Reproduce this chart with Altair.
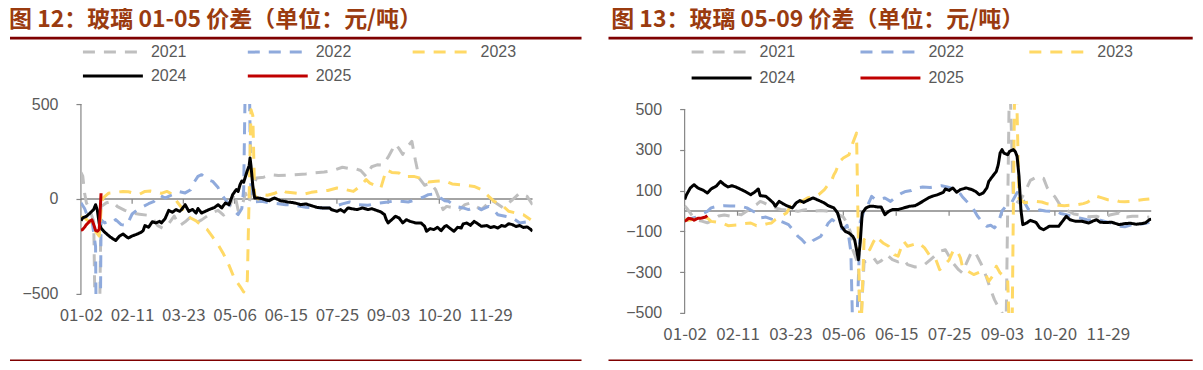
import json
import altair as alt
import pandas as pd

# ---------------- shared axis / legend data ----------------
LABEL_IDX = [0, 28, 56, 84, 112, 140, 168, 196, 224]
LABELS = ["01-02", "02-11", "03-23", "05-06", "06-15", "07-25", "09-03", "10-20", "11-29"]
YEARS = ["2021", "2022", "2023", "2024", "2025"]
COLORS = ["#BFBFBF", "#8FAADC", "#FFD966", "#000000", "#C00000"]
DASHES = [[12, 9], [12, 9], [12, 9], [1, 0], [1, 0]]
WIDTHS = [3, 3, 3, 3, 4.5]

# ---------------- 图12: 玻璃 01-05 价差 (trading-day index, value) ----------------
F12_2021 = [(0,140),(1,120),(2,30),(3,-20),(5,-60),(7,-120),(9,-1500),(11,-40),(14,-20),(17,-12),
            (20,-40),(24,-60),(28,-75),(32,-80),(36,-85),(39,-100),(42,-140),(45,-155),(48,-130),
            (51,-90),(54,-140),(57,-120),(60,-95),(63,-125),(66,-110),(69,-90),(72,-70),(75,-60),
            (78,-85),(81,-50),(84,30),(86,-60),(88,-40),(90,30),(92,-20),(94,60),(96,110),(100,115),
            (104,128),(108,124),(112,125),(117,128),(123,132),(128,138),(133,142),(138,150),(143,167),
            (147,160),(150,160),(153,150),(156,119),(159,170),(162,180),(165,178),(168,220),(170,255),
            (172,290),(174,265),(176,235),(178,270),(181,304),(183,200),(185,110),(188,72),(191,84),
            (194,49),(196,0),(198,-56),(200,-39),(204,-47),(207,-56),(210,-30),(213,-21),(216,-39),
            (219,-56),(222,-30),(224,-4),(227,-21),(231,-47),(234,-20),(236,-4),(240,32),(244,14),(247,-30)]
F12_2022 = [(0,-20),(2,-50),(4,-100),(6,-110),(8,-250),(9,-1500),(10,-1500),(11,-110),(13,-126),
            (15,-118),(17,-126),(19,-109),(22,-135),(25,-140),(28,-79),(31,-56),(34,-40),(37,-25),
            (40,-12),(43,20),(46,5),(50,23),(53,40),(57,32),(60,49),(62,90),(64,119),(66,128),(69,102),
            (72,93),(75,60),(77,23),(79,-4),(81,-30),(83,-56),(86,-82),(88,-50),(89,50),(90,700),(92,700),
            (93,20),(95,-15),(99,-12),(103,-21),(108,-25),(112,-30),(117,-33),(123,-44),(128,-47),
            (136,-47),(143,-26),(147,-16),(152,-30),(157,-33),(163,-21),(168,-16),(172,-9),(179,-16),
            (183,-4),(187,9),(190,23),(193,26),(196,10),(199,-9),(201,-12),(205,-39),(209,-47),(212,-56),
            (216,-40),(219,-56),(223,-39),(226,-60),(228,-83),(232,-91),(236,-100),(240,-126),(244,-120),(247,-118)]
F12_2023 = [(0,-95),(2,-100),(4,-115),(6,-130),(8,-170),(10,-195),(11,-60),(12,5),(15,30),(19,35),
            (23,40),(26,38),(29,30),(32,25),(35,40),(38,42),(41,37),(44,30),(47,40),(49,30),(51,5),
            (53,-20),(55,-45),(57,-80),(60,-100),(63,-115),(66,-140),(69,-160),(72,-200),(75,-240),
            (78,-290),(81,-350),(84,-420),(87,-460),(89,-490),(91,-430),(92,20),(93,470),(94,440),
            (95,20),(97,0),(99,23),(102,20),(106,30),(110,49),(112,37),(117,32),(122,26),(126,35),
            (130,40),(135,45),(140,58),(145,49),(149,40),(153,70),(156,102),(158,84),(162,67),(164,58),
            (167,154),(170,140),(174,137),(176,119),(182,119),(185,111),(190,89),(194,93),(199,96),
            (203,79),(208,75),(212,70),(215,66),(219,49),(223,14),(226,-12),(230,-30),(234,-65),
            (238,-74),(242,-83),(246,-109)]
F12_2024 = [(0,-114),(1,-100),(3,-91),(5,-74),(7,-55),(8,-30),(9,-60),(10,-130),(11,-153),(13,-175),
            (16,-200),(19,-219),(21,-196),(23,-184),(25,-200),(26,-205),(28,-195),(30,-188),(33,-175),
            (34,-167),(35,-140),(37,-149),(39,-120),(41,-126),(43,-118),(44,-126),(46,-104),(48,-60),
            (50,-70),(52,-56),(54,-65),(55,-56),(57,-30),(59,-65),(61,-55),(63,-74),(64,-50),(66,-74),
            (68,-65),(70,-56),(73,-45),(75,-30),(77,-47),(79,-21),(81,-30),(83,23),(85,50),(86,40),
            (87,75),(88,95),(89,88),(91,150),(92,175),(92.5,216),(93,175),(94,70),(95,5),(97,5),(99,2),
            (101,-5),(103,-9),(105,2),(106,5),(108,-4),(109,-9),(111,-12),(113,-16),(115,-18),(117,-21),
            (119,-26),(120,-30),(123,-26),(126,-35),(129,-44),(132,-47),(136,-47),(137,-56),(140,-65),
            (142,-56),(144,-68),(146,-47),(148,-51),(151,-56),(154,-47),(157,-56),(159,-51),(162,-61),
            (164,-68),(166,-82),(167,-109),(168,-126),(170,-109),(172,-91),(174,-100),(176,-126),
            (178,-109),(180,-118),(183,-126),(186,-126),(188,-144),(189,-170),(191,-156),(193,-161),
            (195,-149),(197,-167),(199,-144),(200,-140),(202,-156),(204,-170),(206,-149),(208,-153),
            (209,-132),(211,-126),(213,-139),(215,-118),(217,-130),(219,-144),(222,-140),(224,-150),
            (226,-145),(228,-153),(230,-140),(232,-144),(234,-130),(236,-135),(238,-145),(240,-140),
            (242,-150),(244,-147),(246,-160),(247,-170)]
F12_2025 = [(0,-165),(1,-160),(2,-148),(3,-135),(4,-125),(5,-115),(6,-110),(7,-135),(8,-165),
            (9,-170),(10,-160),(11,30)]

# ---------------- 图13: 玻璃 05-09 价差 ----------------
F13_2021 = [(0,25),(1,15),(3,-10),(5,-35),(7,-45),(9,-50),(12,-58),(15,-45),(18,-25),(21,-20),
            (24,-25),(27,-15),(30,-18),(33,0),(36,20),(38,31),(40,47),(42,40),(45,25),(48,15),(51,7),
            (54,5),(57,5),(60,-2),(63,5),(66,8),(69,0),(72,2),(75,0),(78,-5),(81,-15),(84,-30),(86,-59),
            (88,-108),(89,-190),(91,-239),(92,-255),(93,-600),(95,-250),(97,-247),(100,-230),(102,-255),
            (104,-245),(107,-214),(110,-239),(113,-250),(116,-239),(118,-263),(122,-275),(125,-271),
            (127,-263),(130,-240),(133,-215),(135,-198),(138,-190),(140,-222),(142,-255),(145,-288),
            (147,-304),(149,-260),(152,-198),(154,-206),(157,-260),(160,-330),(162,-386),(164,-435),
            (166,-470),(168,-500),(170,-700),(172,700),(174,60),(177,40),(180,90),(183,150),(187,170),
            (190,160),(192,113),(194,90),(196,70),(198,40),(200,15),(203,0),(206,-15),(210,-20),
            (214,-28),(218,-26),(221,-34),(225,-20),(230,-10),(231,-26),(234,-30),(237,-26),(241,-26),
            (244,-32),(246,-30)]
F13_2022 = [(0,-40),(2,-42),(4,-35),(6,-30),(8,-18),(10,-10),(12,-2),(14,15),(16,20),(18,23),(21,26),
            (24,25),(27,24),(29,23),(31,20),(33,15),(35,5),(38,-10),(40,-34),(43,-30),(46,-40),(49,-45),
            (52,-55),(55,-67),(58,-100),(60,-125),(62,-140),(64,-160),(66,-165),(68,-145),(70,-135),
            (72,-125),(74,-95),(76,-60),(78,-42),(80,-55),(82,-80),(84,-90),(86,-70),(88,-200),(89,-600),
            (91,-600),(93,-50),(95,0),(97,30),(99,72),(101,56),(104,60),(106,64),(109,47),(112,70),
            (115,88),(117,96),(120,100),(123,113),(126,118),(130,115),(133,120),(136,124),(139,118),
            (142,110),(145,95),(147,70),(149,50),(151,31),(153,7),(155,-25),(158,-59),(160,-75),
            (162,-70),(164,-83),(166,-59),(168,0),(170,23),(173,40),(176,90),(178,80),(180,40),(182,7),
            (185,-2),(188,5),(191,0),(194,-2),(197,-2),(199,-12),(202,-18),(205,-26),(209,-34),(213,-43),
            (216,-45),(220,-45),(224,-55),(228,-65),(230,-75),(233,-78),(237,-67),(240,-67),(244,-60),(246,-55)]
F13_2023 = [(0,-42),(2,-45),(4,-42),(6,-40),(8,-38),(10,-36),(12,-34),(14,-51),(17,-55),(20,-59),
            (23,-72),(26,-70),(29,-68),(32,-62),(35,-59),(38,-72),(41,-70),(44,-62),(46,-59),(48,-42),
            (51,-25),(54,-10),(56,23),(59,35),(62,47),(65,64),(68,72),(71,80),(74,105),(76,130),(78,154),
            (79,178),(80,194),(82,243),(84,260),(87,276),(89,333),(91,382),(93,-700),(95,-140),(96,-157),
            (98,-190),(100,-150),(102,-124),(103,-140),(105,-157),(108,-173),(111,-214),(113,-222),
            (115,-170),(116,-149),(118,-173),(121,-165),(124,-157),(127,-181),(130,-222),(133,-239),
            (135,-288),(137,-271),(140,-240),(142,-198),(144,-190),(146,-230),(147,-271),(150,-296),
            (153,-312),(156,-300),(159,-304),(161,-345),(163,-320),(165,-271),(167,-304),(169,-320),
            (171,-337),(173,-900),(175,900),(177,60),(180,40),(183,45),(186,47),(189,44),(192,35),
            (195,31),(198,28),(201,26),(204,28),(208,31),(211,36),(213,42),(216,60),(218,72),(221,64),
            (224,55),(227,55),(230,47),(233,45),(236,47),(240,52),(243,56),(246,59)]
F13_2024 = [(0,56),(1,80),(3,113),(5,129),(7,113),(9,105),(10,101),(12,88),(14,108),(16,118),(17,124),
            (19,145),(21,129),(23,118),(25,124),(27,118),(30,105),(32,96),(35,80),(37,92),(39,108),
            (40,75),(43,72),(45,56),(47,39),(48,23),(50,47),(52,36),(54,26),(57,15),(59,39),(61,51),
            (63,42),(66,56),(68,64),(70,56),(71,52),(74,39),(76,26),(79,15),(81,-10),(82,-42),(83,-75),
            (85,-100),(87,-108),(89,-124),(90,-141),(92,-239),(93,-150),(94,-10),(96,15),(98,23),
            (100,23),(102,20),(104,20),(106,-18),(108,-2),(110,7),(113,7),(116,15),(119,23),(122,26),
            (124,36),(126,47),(129,64),(131,72),(134,80),(137,92),(138,108),(140,101),(142,113),
            (144,92),(146,105),(149,113),(152,105),(154,96),(156,80),(158,88),(160,113),(161,145),
            (163,170),(165,194),(166,227),(167,284),(168,301),(169,284),(171,276),(172,292),(174,301),
            (175,292),(176,268),(177,170),(178,7),(179,-67),(181,-59),(183,-46),(186,-56),(188,-83),
            (190,-92),(193,-75),(198,-75),(200,-51),(202,-26),(204,-43),(207,-51),(210,-50),(214,-59),
            (216,-50),(218,-43),(220,-55),(223,-57),(226,-55),(230,-67),(233,-62),(236,-60),(239,-65),
            (242,-62),(244,-58),(246,-43),(247,-40)]
F13_2025 = [(0,-50),(1,-45),(2,-36),(4,-40),(5,-45),(7,-36),(9,-35),(11,-30),(12,-23)]

TITLE12 = "图 12：玻璃 01-05 价差（单位：元/吨）"
TITLE13 = "图 13：玻璃 05-09 价差（单位：元/吨）"

TITLE_COLOR = "#9A3B0F"
RULE_COLOR = "#7F0000"
AXIS_GRAY = "#868686"
TEXT_GRAY = "#595959"


def frame(series):
    rows = []
    for year, pts in zip(YEARS, series):
        for d, v in pts:
            rows.append({"d": d, "v": v, "year": year})
    return pd.DataFrame(rows)


LABEL_EXPR = f"{json.dumps(LABELS)}[indexof({json.dumps(LABEL_IDX)}, datum.value)]"
ONE = pd.DataFrame({"k": [0]})


def panel(series, title, width, height, ydom, yvals, tick_len, leg_x, leg_y, col_pad, row_pad,
          title_x, rule_x1, rule_x2, bottom_y):
    df = frame(series)
    x_enc = alt.X("d:Q",
                  scale=alt.Scale(domain=[0, 247], nice=False, zero=False),
                  axis=alt.Axis(values=LABEL_IDX, labelExpr=LABEL_EXPR, title=None, domain=False,
                                ticks=False, grid=False, labelFont="Noto Sans CJK SC",
                                labelFontSize=17, labelColor=TEXT_GRAY, labelPadding=14,
                                labelFlush=False, labelOverlap=False))
    y_enc = alt.Y("v:Q",
                  scale=alt.Scale(domain=ydom, nice=False, zero=False),
                  axis=alt.Axis(values=yvals, title=None, grid=False, domain=False,
                                tickColor=AXIS_GRAY, tickSize=5, tickWidth=1.2,
                                labelFont="Liberation Sans", labelFontSize=16,
                                labelColor=TEXT_GRAY, labelPadding=18, labelFlush=False))
    leg = alt.Legend(orient="none", legendX=leg_x, legendY=leg_y, direction="horizontal",
                     columns=3, title=None, symbolType="M-6,0H6", symbolSize=100,
                     symbolOffset=22, labelOffset=30,
                     labelFont="Liberation Sans", labelFontSize=16, labelColor=TEXT_GRAY,
                     columnPadding=col_pad, rowPadding=row_pad, padding=0)
    lines = alt.Chart(df).mark_line(clip=True, strokeJoin="round").encode(
        x=x_enc, y=y_enc,
        color=alt.Color("year:O", scale=alt.Scale(domain=YEARS, range=COLORS), legend=leg),
        strokeDash=alt.StrokeDash("year:O", scale=alt.Scale(domain=YEARS, range=DASHES), legend=leg),
        strokeWidth=alt.StrokeWidth("year:O", scale=alt.Scale(domain=YEARS, range=WIDTHS), legend=leg),
    )
    zero = alt.Chart(ONE).mark_rule(color=AXIS_GRAY, strokeWidth=1.5).encode(y=alt.datum(0))
    ticks = alt.Chart(pd.DataFrame({"d": LABEL_IDX[1:]})).mark_rule(
        color=AXIS_GRAY, strokeWidth=1.2).encode(x="d:Q", y=alt.datum(0), y2=alt.datum(-tick_len))
    yline = alt.Chart(ONE).mark_rule(color=AXIS_GRAY, strokeWidth=1.2).encode(
        x=alt.datum(0), y=alt.datum(-500), y2=alt.datum(500))
    head = alt.Chart(pd.DataFrame({"t": [title]})).mark_text(
        align="left", baseline="middle", font="Noto Sans CJK SC", fontSize=23,
        fontWeight="bold", color=TITLE_COLOR).encode(
        text="t:N", x=alt.value(title_x), y=alt.value(-84.3))
    under = alt.Chart(ONE).mark_rule(color=RULE_COLOR, strokeWidth=3).encode(
        x=alt.value(rule_x1), x2=alt.value(rule_x2), y=alt.value(-66))
    bottom = alt.Chart(ONE).mark_rule(color=RULE_COLOR, strokeWidth=1.5).encode(
        x=alt.value(rule_x1), x2=alt.value(rule_x2), y=alt.value(bottom_y))
    top_guard = alt.Chart(ONE).mark_rule(strokeWidth=1, strokeOpacity=0).encode(
        x=alt.value(rule_x1), x2=alt.value(rule_x1 + 10), y=alt.value(-95.8))
    return alt.layer(zero, ticks, yline, lines, head, under, bottom, top_guard).properties(
        width=width, height=height)


left = panel([F12_2021, F12_2022, F12_2023, F12_2024, F12_2025], TITLE12,
             452, 190, [-500, 500], [-500, 0, 500], 25,
             2, -60, 55, 8, -72, -71, 501, 256.5)
right = panel([F13_2021, F13_2022, F13_2023, F13_2024, F13_2025], TITLE13,
              467, 209, [-500, 524.5], [-500, -300, -100, 100, 300, 500], 23,
              7, -60, 59, 10, -73.5, -76.2, 508.5, 256.5)

chart = alt.hconcat(left, right, spacing=152.2, bounds="flush").resolve_scale(
    color="independent", strokeDash="independent", strokeWidth="independent"
).resolve_legend(
    color="independent", strokeDash="independent", strokeWidth="independent"
).properties(
    padding=0,
    background="white",
).configure_view(stroke=None)

chart.save("out.html", embed_options={"renderer": "svg", "actions": False})
